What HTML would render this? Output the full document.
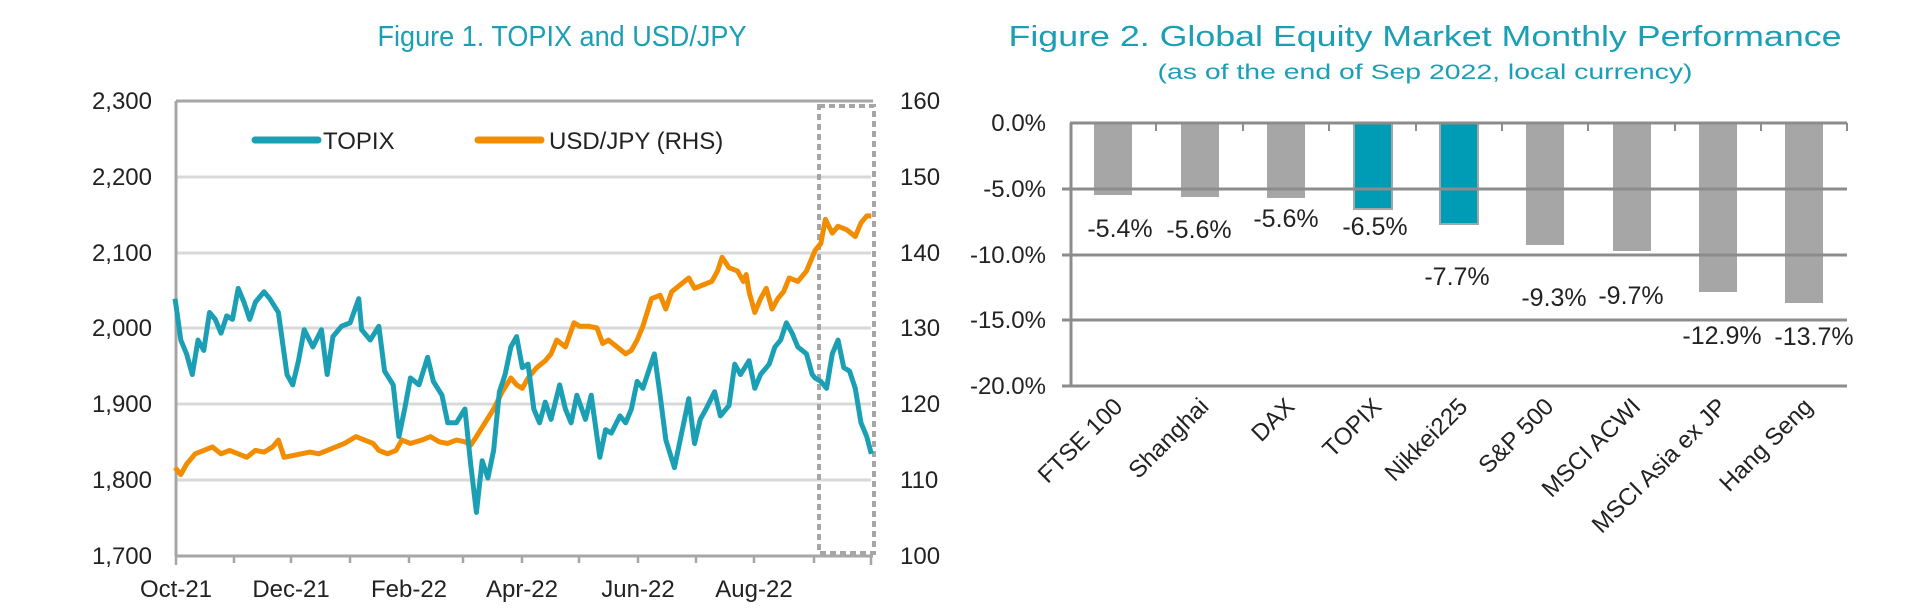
<!DOCTYPE html>
<html><head><meta charset="utf-8"><style>
html,body{margin:0;padding:0;background:#fff;}
svg{display:block;font-family:"Liberation Sans",sans-serif;}
</style></head><body>
<svg width="1920" height="616" viewBox="0 0 1920 616" xmlns="http://www.w3.org/2000/svg">
<rect width="1920" height="616" fill="#fff"/>
<!-- Titles -->
<text x="562" y="46" text-anchor="middle" font-size="29" fill="#1a9fb5" textLength="369" lengthAdjust="spacingAndGlyphs">Figure 1. TOPIX and USD/JPY</text>
<text x="1425" y="46" text-anchor="middle" font-size="29" fill="#1a9fb5" textLength="833" lengthAdjust="spacingAndGlyphs">Figure 2. Global Equity Market Monthly Performance</text>
<text x="1425" y="79" text-anchor="middle" font-size="21" fill="#1a9fb5" textLength="535" lengthAdjust="spacingAndGlyphs">(as of the end of Sep 2022, local currency)</text>

<!-- Figure 1 -->
<g stroke="#d9d9d9" stroke-width="3">
<line x1="176" y1="177" x2="871" y2="177"/>
<line x1="176" y1="253" x2="871" y2="253"/>
<line x1="176" y1="328" x2="871" y2="328"/>
<line x1="176" y1="404" x2="871" y2="404"/>
<line x1="176" y1="480" x2="871" y2="480"/>
</g>
<g stroke="#a6a6a6" stroke-width="3" fill="none">
<line x1="176" y1="101" x2="873" y2="101"/>
<line x1="176" y1="101" x2="176" y2="556"/>
<line x1="176" y1="556" x2="873" y2="556"/>
</g>
<g stroke="#a6a6a6" stroke-width="2.5">
<line x1="176" y1="556" x2="176" y2="565"/><line x1="234" y1="556" x2="234" y2="563"/><line x1="291" y1="556" x2="291" y2="563"/><line x1="350" y1="556" x2="350" y2="563"/><line x1="409" y1="556" x2="409" y2="563"/><line x1="463" y1="556" x2="463" y2="563"/><line x1="522" y1="556" x2="522" y2="563"/><line x1="579" y1="556" x2="579" y2="563"/><line x1="638" y1="556" x2="638" y2="563"/><line x1="696" y1="556" x2="696" y2="563"/><line x1="754" y1="556" x2="754" y2="563"/><line x1="814" y1="556" x2="814" y2="563"/><line x1="871" y1="556" x2="871" y2="565"/>
</g>
<rect x="819" y="106" width="55" height="447" fill="none" stroke="#a6a6a6" stroke-width="4" stroke-dasharray="6,4"/>
<g font-size="24" fill="#222" text-anchor="end">
<text x="152" y="109">2,300</text><text x="152" y="185">2,200</text><text x="152" y="261">2,100</text><text x="152" y="336">2,000</text><text x="152" y="412">1,900</text><text x="152" y="488">1,800</text><text x="152" y="564">1,700</text>
</g>
<g font-size="24" fill="#222">
<text x="900" y="109">160</text><text x="900" y="185">150</text><text x="900" y="261">140</text><text x="900" y="336">130</text><text x="900" y="412">120</text><text x="900" y="488">110</text><text x="900" y="564">100</text>
</g>
<g font-size="24" fill="#222" text-anchor="middle">
<text x="176" y="597">Oct-21</text><text x="291" y="597">Dec-21</text><text x="409" y="597">Feb-22</text><text x="522" y="597">Apr-22</text><text x="638" y="597">Jun-22</text><text x="754" y="597">Aug-22</text>
</g>
<!-- legend -->
<line x1="255" y1="140" x2="318" y2="140" stroke="#1a9fb5" stroke-width="7" stroke-linecap="round"/>
<text x="323" y="149" font-size="24" fill="#222">TOPIX</text>
<line x1="478" y1="140" x2="541" y2="140" stroke="#f28c00" stroke-width="7" stroke-linecap="round"/>
<text x="549" y="149" font-size="24" fill="#222">USD/JPY (RHS)</text>
<g transform="matrix(0.574,0,0,0.3448,0,78)" fill="none" stroke-linejoin="round">
<polyline vector-effect="non-scaling-stroke" stroke="#f28c00" stroke-width="5" points="305,1130 315,1150 325,1120 340,1090 355,1080 370,1070 385,1090 400,1080 415,1090 430,1100 445,1080 460,1085 475,1070 485,1050 495,1100 510,1095 525,1090 540,1085 555,1090 570,1080 585,1070 600,1060 620,1040 635,1050 650,1060 660,1080 675,1090 690,1080 700,1050 715,1060 735,1050 750,1040 765,1055 780,1060 795,1050 810,1055 820,1065 830,1040 845,1000 860,960 875,910 890,870 900,890 910,900 920,870 935,840 950,820 960,800 970,760 985,780 1000,710 1010,720 1025,720 1040,725 1050,770 1060,760 1075,780 1090,800 1100,790 1110,760 1120,720 1135,640 1150,630 1160,670 1170,620 1185,600 1200,580 1210,610 1225,600 1240,590 1250,560 1258,520 1270,550 1285,560 1295,590 1300,570 1305,620 1315,680 1325,640 1335,610 1345,670 1355,640 1365,620 1375,580 1390,590 1405,560 1420,500 1430,480 1438,410 1450,450 1460,430 1475,440 1490,460 1500,420 1510,400 1518,400"/>
<polyline vector-effect="non-scaling-stroke" stroke="#1a9fb5" stroke-width="5" points="305,640 315,760 325,800 335,860 345,760 355,790 365,680 375,700 385,740 395,690 405,700 415,610 425,650 435,700 445,650 460,620 470,640 485,680 500,860 510,890 520,820 530,730 545,780 560,730 570,860 580,750 595,720 610,710 625,640 630,730 645,760 660,720 670,850 685,890 695,1040 705,960 715,870 730,890 745,810 755,880 770,920 780,1000 795,1000 810,960 820,1120 830,1260 840,1110 850,1160 860,1080 870,910 880,860 890,780 900,750 910,840 920,830 930,960 940,1000 950,940 960,990 975,890 985,960 995,1000 1005,920 1020,990 1030,920 1045,1100 1055,1020 1065,1030 1080,980 1090,1000 1100,960 1110,880 1120,900 1130,850 1140,800 1150,920 1160,1050 1175,1130 1185,1050 1200,930 1210,1060 1220,990 1230,960 1245,910 1255,980 1270,950 1280,830 1290,860 1305,820 1315,900 1325,860 1340,830 1350,780 1360,760 1370,710 1380,740 1390,780 1405,800 1415,860 1420,870 1430,880 1440,900 1450,800 1460,760 1470,840 1480,850 1490,900 1500,1000 1510,1040 1518,1090"/>
</g>

<!-- Figure 2 -->
<g fill="#a6a6a6">
<rect x="1094" y="123" width="38" height="72"/>
<rect x="1181" y="123" width="38" height="74"/>
<rect x="1267" y="123" width="38" height="75"/>
<rect x="1526" y="123" width="38" height="122"/>
<rect x="1613" y="123" width="38" height="128"/>
<rect x="1699" y="123" width="38" height="169"/>
<rect x="1785" y="123" width="38" height="180"/>
</g>
<rect x="1354" y="123" width="38" height="86" fill="#009bb4" stroke="#a6a6a6" stroke-width="2"/>
<rect x="1440" y="123" width="38" height="101" fill="#009bb4" stroke="#a6a6a6" stroke-width="2"/>
<g stroke="#8c8c8c" stroke-width="3">
<line x1="1070" y1="123" x2="1847" y2="123"/>
<line x1="1062" y1="189" x2="1847" y2="189"/>
<line x1="1062" y1="255" x2="1847" y2="255"/>
<line x1="1062" y1="320" x2="1847" y2="320"/>
<line x1="1062" y1="386" x2="1847" y2="386"/>
<line x1="1071" y1="123" x2="1071" y2="386"/>
</g>
<g stroke="#8c8c8c" stroke-width="2">
<line x1="1156" y1="123" x2="1156" y2="131"/><line x1="1243" y1="123" x2="1243" y2="131"/><line x1="1329" y1="123" x2="1329" y2="131"/><line x1="1416" y1="123" x2="1416" y2="131"/><line x1="1502" y1="123" x2="1502" y2="131"/><line x1="1588" y1="123" x2="1588" y2="131"/><line x1="1675" y1="123" x2="1675" y2="131"/><line x1="1761" y1="123" x2="1761" y2="131"/><line x1="1847" y1="123" x2="1847" y2="131"/>
</g>
<g font-size="24" fill="#222" text-anchor="end">
<text x="1046" y="131">0.0%</text><text x="1046" y="197">-5.0%</text><text x="1046" y="263">-10.0%</text><text x="1046" y="328">-15.0%</text><text x="1046" y="394">-20.0%</text>
</g>
<g font-size="25" fill="#222" text-anchor="middle">
<text x="1120" y="237">-5.4%</text><text x="1199" y="238">-5.6%</text><text x="1286" y="227">-5.6%</text><text x="1375" y="235">-6.5%</text><text x="1457" y="285">-7.7%</text><text x="1554" y="306">-9.3%</text><text x="1631" y="304">-9.7%</text><text x="1722" y="344">-12.9%</text><text x="1814" y="345">-13.7%</text>
</g>
<g font-size="24" fill="#222" text-anchor="end">
<text transform="translate(1124,408) rotate(-45)">FTSE 100</text>
<text transform="translate(1210,408) rotate(-45)">Shanghai</text>
<text transform="translate(1296,408) rotate(-45)">DAX</text>
<text transform="translate(1383,408) rotate(-45)">TOPIX</text>
<text transform="translate(1469,408) rotate(-45)">Nikkei225</text>
<text transform="translate(1555,408) rotate(-45)">S&amp;P 500</text>
<text transform="translate(1642,408) rotate(-45)">MSCI ACWI</text>
<text transform="translate(1728,408) rotate(-45)">MSCI Asia ex JP</text>
<text transform="translate(1814,408) rotate(-45)">Hang Seng</text>
</g>
</svg>
</body></html>
